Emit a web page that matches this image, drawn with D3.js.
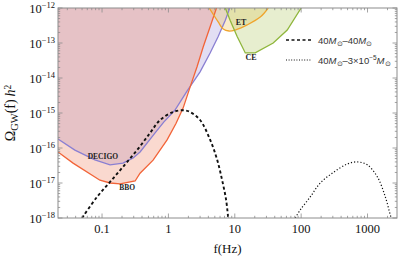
<!DOCTYPE html>
<html>
<head>
<meta charset="utf-8">
<script src="https://cdn.jsdelivr.net/npm/d3@7"></script>
<style>
  body { margin: 0; background: #fff; }
  text { font-family: "Liberation Serif", "DejaVu Serif", serif; }
</style>
</head>
<body>
<svg id="chart"></svg>
<script>
// sensitivity curves [f (Hz), Omega h^2]
const decigo = [[0.0217,1.8e-16],[0.039,8.7e-17],[0.078,4.6e-17],[0.132,3.3e-17],[0.207,3.7e-17],[0.294,5.2e-17],[0.374,7.7e-17],[0.63,2.7e-16],[0.85,5.5e-16],[1.25,1.2e-15],[1.95,4.5e-15],[3.0,1.5e-14],[4.25,5.2e-14],[5.6,1.5e-13],[7.2,4.5e-13],[8.4,1e-12]];
const bbo = [[0.0217,7.7e-17],[0.0366,3.7e-17],[0.093,1.2e-17],[0.132,1e-17],[0.187,9.4e-18],[0.315,1.14e-17],[0.374,1.9e-17],[0.588,4.5e-17],[0.955,1.7e-16],[1.3,5e-16],[1.67,1.4e-15],[2.12,5.5e-15],[2.7,2.1e-14],[3.34,7.7e-14],[4.25,2.9e-13],[5.3,1e-12]];
const et = [[4.11,1e-12],[5.62,4e-13],[6.7,2.5e-13],[8.2,2.2e-13],[10.1,2.35e-13],[15.4,3.3e-13],[24.2,5.5e-13],[31.9,1e-12]];
const ce = [[7.2,1e-12],[8.5,4.5e-13],[10.9,1.5e-13],[14.4,5.2e-14],[20.3,5.2e-14],[37.9,1e-13],[61.7,2.35e-13],[100,1e-12]];

// signals
const bin40_40 = [[0.05,1e-18],[0.084,4e-18],[0.132,1.07e-17],[0.207,2.9e-17],[0.337,8.7e-17],[0.53,2.7e-16],[0.75,6.3e-16],[1.18,1.07e-15],[1.67,1.2e-15],[2.12,1.07e-15],[3.0,6.3e-16],[4.26,1.7e-16],[5.43,4.6e-17],[6.45,1.2e-17],[7.4,3.3e-18],[7.95,1e-18]];
const bin40_pbh = [[81.5,1e-18],[96.9,1.7e-18],[137,4e-18],[194,1e-17],[305,2e-17],[496,3.5e-17],[701,4e-17],[993,3.3e-17],[1406,1.5e-17],[1855,4e-18],[2208,1.2e-18],[2280,1e-18]];

const xTicks = [0.1, 1, 10, 100, 1000];
const xTickLabels = ["0.1", "1", "10", "100", "1000"];
const yTickExps = [-18, -17, -16, -15, -14, -13, -12];

const W = 401, H = 260;
const margin = { left: 58, right: 4, top: 8, bottom: 42 };

const svg = d3.select("#chart").attr("width", W).attr("height", H);

const x = d3.scaleLog([0.0217, 2780], [margin.left, W - margin.right]);
const y = d3.scaleLog([1e-18, 1e-12], [H - margin.bottom, margin.top]);

svg.append("clipPath").attr("id", "plot")
  .append("rect")
  .attr("x", margin.left).attr("y", margin.top)
  .attr("width", W - margin.left - margin.right)
  .attr("height", H - margin.top - margin.bottom);

const g = svg.append("g").attr("clip-path", "url(#plot)");

// filled regions above each sensitivity curve
const area = d3.area()
  .x(d => x(d[0]))
  .y0(margin.top - 5)
  .y1(d => y(d[1]));
const line = d3.line()
  .x(d => x(d[0]))
  .y(d => y(d[1]));
const smooth = d3.line()
  .x(d => x(d[0]))
  .y(d => y(d[1]))
  .curve(d3.curveCatmullRom);

const regions = [
  { data: decigo, fill: "#8a7ccf", op: 0.25, stroke: "#8a7fd2", curve: line },
  { data: bbo, fill: "#f08060", op: 0.3, stroke: "#f26438", curve: line },
  { data: et, fill: "#f0c050", op: 0.3, stroke: "#f0a42c", curve: smooth },
  { data: ce, fill: "#b0c860", op: 0.3, stroke: "#8fb63c", curve: line }
];

regions.forEach(r => {
  g.append("path")
    .attr("d", area.curve(r.curve === smooth ? d3.curveCatmullRom : d3.curveLinear)(r.data))
    .attr("fill", r.fill)
    .attr("fill-opacity", r.op);
});
regions.forEach(r => {
  g.append("path")
    .attr("d", r.curve(r.data))
    .attr("fill", "none")
    .attr("stroke", r.stroke)
    .attr("stroke-width", 1.3);
});

g.append("path")
  .attr("d", smooth(bin40_40))
  .attr("fill", "none")
  .attr("stroke", "#111")
  .attr("stroke-width", 1.9)
  .attr("stroke-dasharray", "3,2.5");

g.append("path")
  .attr("d", smooth(bin40_pbh))
  .attr("fill", "none")
  .attr("stroke", "#111")
  .attr("stroke-width", 1.2)
  .attr("stroke-dasharray", "1.2,2");

// frame + ticks on all four sides
const x0 = margin.left, x1 = W - margin.right, y0 = H - margin.bottom, y1 = margin.top;
svg.append("rect")
  .attr("x", x0).attr("y", y1)
  .attr("width", x1 - x0).attr("height", y0 - y1)
  .attr("fill", "none").attr("stroke", "#8c8c8c").attr("stroke-width", 1);

const xMinor = [];
[0.01, 0.1, 1, 10, 100, 1000].forEach(dec => {
  for (let k = 2; k <= 9; k++) {
    const v = dec * k;
    if (v > x.domain()[0] && v < x.domain()[1]) xMinor.push(v);
  }
});
const yMinor = [];
yTickExps.slice(0, -1).forEach(e => {
  for (let k = 2; k <= 9; k++) yMinor.push(k * Math.pow(10, e));
});

const tk = svg.append("g").attr("stroke", "#8c8c8c").attr("stroke-width", 0.8);
xTicks.forEach(v => {
  tk.append("line").attr("x1", x(v)).attr("x2", x(v)).attr("y1", y0).attr("y2", y0 - 4.5);
  tk.append("line").attr("x1", x(v)).attr("x2", x(v)).attr("y1", y1).attr("y2", y1 + 4.5);
});
xMinor.forEach(v => {
  tk.append("line").attr("x1", x(v)).attr("x2", x(v)).attr("y1", y0).attr("y2", y0 - 2.2);
  tk.append("line").attr("x1", x(v)).attr("x2", x(v)).attr("y1", y1).attr("y2", y1 + 2.2);
});
yTickExps.forEach(e => {
  const v = Math.pow(10, e);
  tk.append("line").attr("x1", x0).attr("x2", x0 + 4.5).attr("y1", y(v)).attr("y2", y(v));
  tk.append("line").attr("x1", x1).attr("x2", x1 - 4.5).attr("y1", y(v)).attr("y2", y(v));
});
yMinor.forEach(v => {
  tk.append("line").attr("x1", x0).attr("x2", x0 + 2.2).attr("y1", y(v)).attr("y2", y(v));
  tk.append("line").attr("x1", x1).attr("x2", x1 - 2.2).attr("y1", y(v)).attr("y2", y(v));
});

// tick labels
svg.append("g").selectAll("text")
  .data(xTicks)
  .join("text")
  .attr("x", d => x(d))
  .attr("y", y0 + 15)
  .attr("text-anchor", "middle")
  .attr("font-size", 12.5)
  .attr("fill", "#111")
  .text((d, i) => xTickLabels[i]);

yTickExps.forEach(e => {
  const t = svg.append("text")
    .attr("x", 55)
    .attr("y", y(Math.pow(10, e)) + 5)
    .attr("text-anchor", "end")
    .attr("font-size", 12.5)
    .attr("fill", "#111");
  t.append("tspan").text("10");
  t.append("tspan").attr("font-size", 8.5).attr("dy", -5).text("\u2212" + Math.abs(e));
});

// axis titles
svg.append("text")
  .attr("x", (x0 + x1) / 2)
  .attr("y", 253)
  .attr("text-anchor", "middle")
  .attr("font-size", 13)
  .attr("fill", "#111")
  .text("f(Hz)");

const yt = svg.append("text")
  .attr("transform", `translate(15,${(y0 + y1) / 2}) rotate(-90)`)
  .attr("text-anchor", "middle")
  .attr("font-size", 14)
  .attr("fill", "#111");
yt.append("tspan").text("\u03A9");
yt.append("tspan").attr("font-size", 10.5).attr("dy", 3).text("GW");
yt.append("tspan").attr("dy", -3).text("(f)\u2009");
yt.append("tspan").attr("font-style", "italic").text("h");
yt.append("tspan").attr("font-size", 9.5).attr("dy", -4.5).text("2");

// detector labels
const detLabels = [
  { name: "DECIGO", f: 0.103, v: 4.9e-17, size: 7.5 },
  { name: "BBO", f: 0.24, v: 6.3e-18, size: 7.5 },
  { name: "ET", f: 12.4, v: 3.3e-13, size: 8 },
  { name: "CE", f: 17.6, v: 3.3e-14, size: 8 }
];
svg.append("g").selectAll("text")
  .data(detLabels)
  .join("text")
  .attr("x", d => x(d.f))
  .attr("y", d => y(d.v))
  .attr("text-anchor", "middle")
  .attr("font-size", d => d.size)
  .attr("font-weight", "bold")
  .attr("fill", "#222")
  .text(d => d.name);

// legend
const leg = svg.append("g");
const legItems = [
  { dash: "3,2.5", w: 1.6, yy: 40 },
  { dash: "1,1.6", w: 1, yy: 60 }
];
legItems.forEach(d => {
  leg.append("line")
    .attr("x1", 286).attr("x2", 312)
    .attr("y1", d.yy).attr("y2", d.yy)
    .attr("stroke", "#111").attr("stroke-width", d.w)
    .attr("stroke-dasharray", d.dash);
});
const lt1 = leg.append("text").attr("x", 318).attr("y", 43.5).attr("font-size", 9.5).attr("fill", "#333")
  .style("font-family", "'Liberation Sans', Arial, sans-serif");
lt1.append("tspan").text("40");
lt1.append("tspan").attr("font-style", "italic").text("M");
lt1.append("tspan").attr("font-size", 6.5).attr("dy", 2).text("\u2299");
lt1.append("tspan").attr("dy", -2).text("\u201340");
lt1.append("tspan").attr("font-style", "italic").text("M");
lt1.append("tspan").attr("font-size", 6.5).attr("dy", 2).text("\u2299");

const lt2 = leg.append("text").attr("x", 318).attr("y", 63.5).attr("font-size", 9.5).attr("fill", "#333")
  .style("font-family", "'Liberation Sans', Arial, sans-serif");
lt2.append("tspan").text("40");
lt2.append("tspan").attr("font-style", "italic").text("M");
lt2.append("tspan").attr("font-size", 6.5).attr("dy", 2).text("\u2299");
lt2.append("tspan").attr("dy", -2).text("\u20133\u00D710");
lt2.append("tspan").attr("font-size", 6.5).attr("dy", -4).text("\u22125");
lt2.append("tspan").attr("font-style", "italic").attr("dy", 4).text("M");
lt2.append("tspan").attr("font-size", 6.5).attr("dy", 2).text("\u2299");
</script>
</body>
</html>
